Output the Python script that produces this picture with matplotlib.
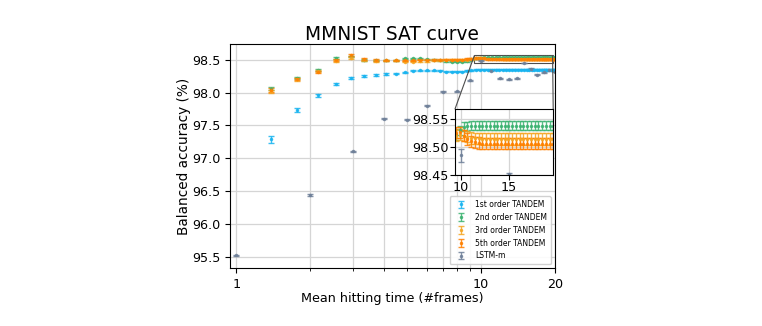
import matplotlib
matplotlib.use('Agg')
import matplotlib.pyplot as plt
from matplotlib.ticker import FixedLocator, FuncFormatter, NullFormatter
from mpl_toolkits.axes_grid1.inset_locator import mark_inset

# mean hitting times shared by the TANDEM curves
tandem_x = [1.39, 1.78, 2.16, 2.55, 2.94, 3.33, 3.71, 4.10, 4.49, 4.88,
            5.27, 5.65, 6.04, 6.43, 6.82, 7.20, 7.59, 7.98, 8.37, 8.76,
            9.14, 9.53, 9.92, 10.31, 10.69, 11.08, 11.47, 11.86, 12.24, 12.63,
            13.02, 13.41, 13.80, 14.18, 14.57, 14.96, 15.35, 15.73, 16.12, 16.51,
            16.90, 17.29, 17.67, 18.06, 18.45, 18.84, 19.22, 19.61, 20.0]

first_y = [97.29, 97.73, 97.96, 98.13, 98.22, 98.26, 98.27, 98.28, 98.29, 98.31,
           98.33, 98.34, 98.34, 98.34, 98.33, 98.32, 98.32, 98.32, 98.32, 98.33,
           98.34, 98.35, 98.35, 98.35, 98.35, 98.35, 98.35, 98.35, 98.35, 98.35,
           98.35, 98.35, 98.35, 98.35, 98.35, 98.35, 98.35, 98.35, 98.35, 98.35,
           98.35, 98.35, 98.35, 98.35, 98.35, 98.35, 98.35, 98.35, 98.35]
first_err = [0.05, 0.03, 0.025, 0.02, 0.018, 0.015, 0.014, 0.012, 0.01, 0.01] + [0.008] * 39

second_y = [98.06, 98.22, 98.35, 98.52, 98.55, 98.50, 98.49, 98.49, 98.49, 98.52,
            98.52, 98.52, 98.51, 98.50, 98.49, 98.48, 98.47, 98.47, 98.47, 98.48,
            98.50, 98.522, 98.530, 98.536, 98.537, 98.538, 98.538, 98.538, 98.538, 98.538,
            98.538, 98.538, 98.538, 98.538, 98.538, 98.538, 98.538, 98.538, 98.538, 98.538,
            98.538, 98.538, 98.538, 98.538, 98.538, 98.538, 98.538, 98.538, 98.538]
second_err = [0.02, 0.02, 0.015, 0.015, 0.015, 0.014, 0.013, 0.012, 0.012, 0.011] + [0.009] * 12 + [0.008] * 27

third_y = [98.02, 98.20, 98.33, 98.48, 98.52, 98.49, 98.48, 98.49, 98.49, 98.47,
           98.47, 98.48, 98.48, 98.49, 98.49, 98.50, 98.50, 98.50, 98.50, 98.50,
           98.51, 98.52, 98.522, 98.520, 98.518, 98.516, 98.515, 98.515, 98.514, 98.514,
           98.514, 98.514, 98.514, 98.514, 98.514, 98.514, 98.514, 98.514, 98.514, 98.514,
           98.514, 98.514, 98.514, 98.514, 98.514, 98.514, 98.514, 98.514, 98.514]
third_err = [0.025, 0.02, 0.015, 0.015, 0.015, 0.014, 0.013, 0.012, 0.012, 0.011] + [0.01] * 39

fifth_y = [98.04, 98.21, 98.32, 98.50, 98.57, 98.51, 98.50, 98.49, 98.49, 98.49,
           98.49, 98.50, 98.50, 98.50, 98.50, 98.50, 98.50, 98.50, 98.50, 98.51,
           98.515, 98.525, 98.526, 98.520, 98.514, 98.510, 98.508, 98.507, 98.506, 98.506,
           98.506, 98.506, 98.506, 98.506, 98.506, 98.506, 98.506, 98.506, 98.506, 98.506,
           98.506, 98.506, 98.506, 98.506, 98.506, 98.506, 98.506, 98.506, 98.506]
fifth_err = [0.025, 0.02, 0.015, 0.015, 0.015, 0.014, 0.013, 0.012, 0.012, 0.011] + [0.01] * 39

lstm_x = [1, 2, 3, 4, 5, 6, 7, 8, 9, 10, 11, 12, 13, 14, 15, 16, 17, 18, 19, 20]
lstm_y = [95.52, 96.44, 97.11, 97.60, 97.59, 97.80, 98.01, 98.02, 98.19, 98.485,
          98.33, 98.22, 98.20, 98.22, 98.452, 98.36, 98.27, 98.31, 98.34, 98.32]
lstm_err = [0.012, 0.01, 0.008, 0.008, 0.008, 0.008, 0.008, 0.008, 0.008, 0.011,
            0.008, 0.008, 0.008, 0.008, 0.002, 0.008, 0.008, 0.008, 0.008, 0.008]

series = [
    ('1st order TANDEM', tandem_x, first_y, first_err, '#19b4f0'),
    ('2nd order TANDEM', tandem_x, second_y, second_err, '#3cb371'),
    ('3rd order TANDEM', tandem_x, third_y, third_err, '#f5a623'),
    ('5th order TANDEM', tandem_x, fifth_y, fifth_err, '#ff8000'),
    ('LSTM-m', lstm_x, lstm_y, lstm_err, '#6f8099'),
]


def draw(ax, label=True):
    for name, x, y, e, c in series:
        ax.errorbar(x, y, yerr=e, fmt='.', color=c, ecolor=c, markersize=3,
                    elinewidth=1, capsize=2, capthick=1, alpha=0.85,
                    label=name if label else None)


fig = plt.figure(figsize=(7.62, 3.26), dpi=100)
ax = fig.add_axes([0.302, 0.178, 0.426, 0.687])
draw(ax)
ax.set_xscale('log')
ax.set_xlim(0.945, 20.0)
ax.set_ylim(95.33, 98.74)
ax.xaxis.set_major_locator(FixedLocator([1, 10, 20]))
ax.xaxis.set_major_formatter(FuncFormatter(lambda v, p: '%d' % v))
ax.xaxis.set_minor_formatter(NullFormatter())
ax.set_yticks([95.5, 96.0, 96.5, 97.0, 97.5, 98.0, 98.5])
ax.yaxis.set_major_formatter(FuncFormatter(lambda v, p: '%.1f' % v))
ax.grid(True, which='both', axis='x', color='#d5d5d5', linewidth=0.9)
ax.grid(True, which='major', axis='y', color='#d5d5d5', linewidth=0.9)
ax.set_axisbelow(True)
ax.tick_params(labelsize=9.2)
ax.set_title('MMNIST SAT curve', fontsize=13.4, pad=3)
ax.set_xlabel('Mean hitting time (#frames)', fontsize=9.2, labelpad=1)
ax.set_ylabel('Balanced accuracy (%)', fontsize=9.8, labelpad=0.5)
ax.legend(loc='lower right', fontsize=5.5, borderpad=0.5, labelspacing=0.5,
          handlelength=2.0, framealpha=0.9)

axins = fig.add_axes([0.597, 0.463, 0.129, 0.202])
draw(axins, label=False)
axins.set_xlim(9.4, 19.6)
axins.set_ylim(98.45, 98.567)
axins.set_xticks([10, 15])
axins.set_yticks([98.45, 98.50, 98.55])
axins.yaxis.set_major_formatter(FuncFormatter(lambda v, p: '%.2f' % v))
axins.tick_params(labelsize=9.2, pad=1)
axins.grid(True, color='#d5d5d5', linewidth=0.9)
axins.set_axisbelow(True)
mark_inset(ax, axins, loc1=2, loc2=1, fc='none', ec='0.3', lw=0.8)

fig.savefig('out.png', dpi=100)
